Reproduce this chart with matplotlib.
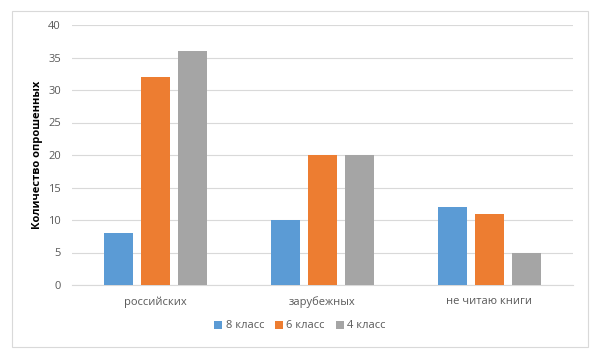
import matplotlib.pyplot as plt
import matplotlib.patches as mplpatches
import numpy as np

plt.rcParams['font.family'] = ['Open Sans', 'DejaVu Sans']

categories = ['российских', 'зарубежных', 'не читаю книги']
seriesNames = ['8 класс', '6 класс', '4 класс']
seriesValues = [
    [8, 10, 12],
    [32, 20, 11],
    [36, 20, 5],
]
seriesColors = ['#5B9BD5', '#ED7D31', '#A5A5A5']
yTicks = [0, 5, 10, 15, 20, 25, 30, 35, 40]

figureWidth = 5.96
figureHeight = 3.55
fig = plt.figure(figsize=(figureWidth, figureHeight), dpi=100)

# outer chart border like excel
fig.patches.append(mplpatches.Rectangle((12/596, 8/355), 576/596, 336/355,
                                        transform=fig.transFigure, fill=False,
                                        edgecolor='#D9D9D9', linewidth=0.8))

panel = plt.axes([72/596, 70/355, 501/596, 260/355])

barWidth = 0.174
step = 0.222
x = np.arange(len(categories))
for i in range(len(seriesNames)):
    panel.bar(x + (i - 1) * step, seriesValues[i], width=barWidth,
              color=seriesColors[i], label=seriesNames[i], zorder=3)

panel.set_xlim(-0.5, len(categories) - 0.5)
panel.set_ylim(0, 40)
panel.set_yticks(yTicks)
panel.set_xticks(x)
panel.set_xticklabels(categories)
panel.grid(axis='y', color='#D9D9D9', linewidth=0.8, zorder=0)
for side in ['top', 'right', 'left']:
    panel.spines[side].set_visible(False)
panel.spines['bottom'].set_color('#D9D9D9')
panel.tick_params(axis='both', length=0, labelsize=8, colors='#595959')
panel.tick_params(axis='x', pad=8)
panel.tick_params(axis='y', pad=8)
panel.set_ylabel('Количество опрошенных', fontsize=8, fontweight='bold',
                 color='black', labelpad=4)

fig.legend(loc='center', bbox_to_anchor=(300/596, 1 - 326/355), ncol=3,
           frameon=False, fontsize=8, handlelength=0.7, handleheight=0.7,
           handletextpad=0.3, columnspacing=1.0, labelcolor='#595959')

plt.savefig('out.png', dpi=100)
